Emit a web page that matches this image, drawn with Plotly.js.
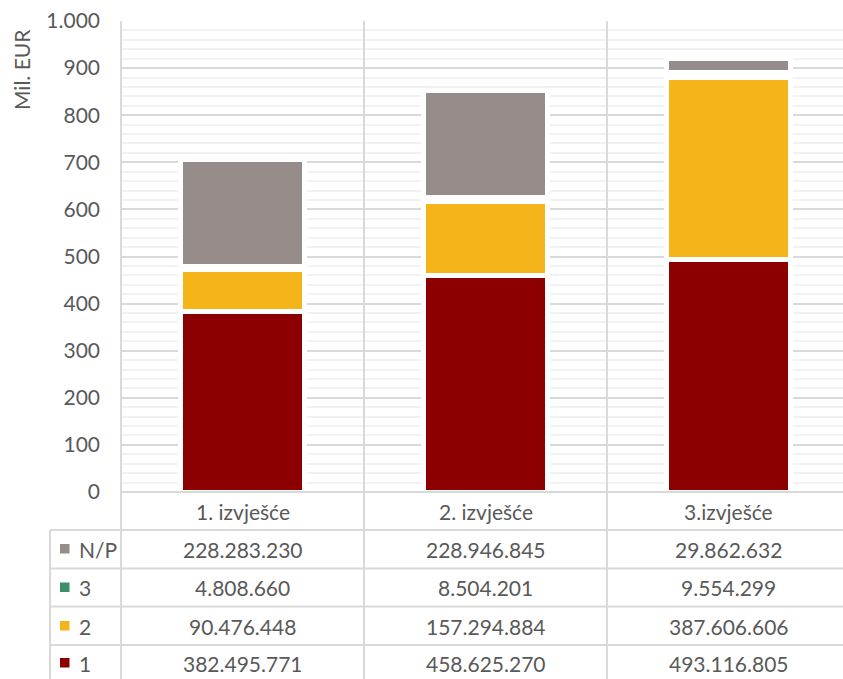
<!DOCTYPE html>
<html><head><meta charset="utf-8">
<script src="https://cdn.plot.ly/plotly-3.0.1.min.js"></script>
<style>html,body{margin:0;padding:0;background:#fff}#chart{width:843px;height:679px}</style>
</head><body><div id="chart"></div>
<script>
const categories = ["1. izvješće", "2. izvješće", "3.izvješće"];
const seriesNames = ["1", "2", "3", "N/P"];
const s1 = [382495771, 458625270, 493116805];
const s2 = [90476448, 157294884, 387606606];
const s3 = [4808660, 8504201, 9554299];
const sNP = [228283230, 228946845, 29862632];
const colors = ["#8C0000", "#F5B41A", "#3E8E6A", "#968D8B"];
const yTicks = [0, 100, 200, 300, 400, 500, 600, 700, 800, 900, 1000];

const W = 843, H = 679, L = 121, T = 21, B = 492;
const PW = W - L, PH = B - T;
const px = x => (x - L) / PW;
const py = y => (B - y) / PH;
const txt = "#595959";
const grid = "#D9D9D9";
const FONT = "Lato, 'Open Sans', sans-serif";

function fmt(n) { return String(n).replace(/\B(?=(\d{3})+(?!\d))/g, "."); }

const allSeries = [s1, s2, s3, sNP];
const xs = [0, 1, 2];
const traces = allSeries.map((s, i) => ({
  type: "bar", x: xs, y: s.map(v => v / 1e6), name: seriesNames[i],
  marker: {color: colors[i], line: {color: "#FFFFFF", width: 5}},
  hoverinfo: "skip", showlegend: false
}));

const shapes = [];
const annotations = [];
const line = (x0, y0, x1, y1, xref) => shapes.push({type: "line", xref: xref || "paper", yref: "paper", x0, y0, x1, y1, line: {color: grid, width: 2}, layer: "above"});
// column separators
line(px(L), py(T), px(L), py(H + 5));
line(0.5, py(T), 0.5, py(H + 5), "x");
line(1.5, py(T), 1.5, py(H + 5), "x");
// table rows
const rowLines = [530, 568.5, 606.5, 645];
line(px(L), py(B), 1, py(B));
rowLines.forEach(y => line(px(50), py(y), 1, py(y)));
line(px(50), py(530), px(50), py(H + 5));

// category labels
categories.forEach((c, i) => annotations.push({xref: "x", yref: "paper", x: i, y: py(511), text: c, showarrow: false, font: {family: FONT, size: 21, color: txt}, xanchor: "center", yanchor: "middle"}));
// table rows: N/P, 3, 2, 1
const rowCenters = [549, 587.5, 626, 663];
const rowOrder = [3, 2, 1, 0];
rowOrder.forEach((si, r) => {
  const yc = py(rowCenters[r]);
  shapes.push({type: "rect", xref: "paper", yref: "paper", x0: px(60), x1: px(69.5), y0: py(rowCenters[r] - 5), y1: py(rowCenters[r] + 4.5), fillcolor: colors[si], line: {width: 0}});
  annotations.push({xref: "paper", yref: "paper", x: px(77), y: yc, text: seriesNames[si], showarrow: false, xanchor: "left", yanchor: "middle", font: {family: FONT, size: 21, color: txt}});
  allSeries[si].forEach((v, i) => annotations.push({xref: "x", yref: "paper", x: i, y: yc, text: fmt(v), showarrow: false, xanchor: "center", yanchor: "middle", font: {family: FONT, size: 21, color: txt}}));
});
// y-axis title
annotations.push({xref: "paper", yref: "paper", x: px(22), y: py(70), text: "Mil. EUR", textangle: -90, showarrow: false, xanchor: "center", yanchor: "middle", font: {family: FONT, size: 21, color: txt}});

const layout = {
  width: W, height: H, margin: {l: L, r: 0, t: T, b: H - B, pad: 0},
  paper_bgcolor: "#fff", plot_bgcolor: "#fff",
  barmode: "stack", bargap: 0.49, separators: ",.",
  font: {family: FONT, size: 21, color: txt},
  xaxis: {range: [-0.5, -0.5 + PW / 243], showticklabels: false, showgrid: false, zeroline: false, ticks: "", fixedrange: true},
  yaxis: {range: [0, 1000], tickvals: yTicks, tickformat: ",d", showgrid: true, gridcolor: grid, gridwidth: 2,
          zeroline: false, ticks: "", ticklabelstandoff: 20, tickfont: {family: FONT, size: 21, color: txt},
          minor: {dtick: 20, showgrid: true, gridcolor: "#F2F2F2", gridwidth: 2}},
  shapes, annotations
};
Plotly.newPlot("chart", traces, layout, {staticPlot: true, displayModeBar: false});
</script></body></html>
